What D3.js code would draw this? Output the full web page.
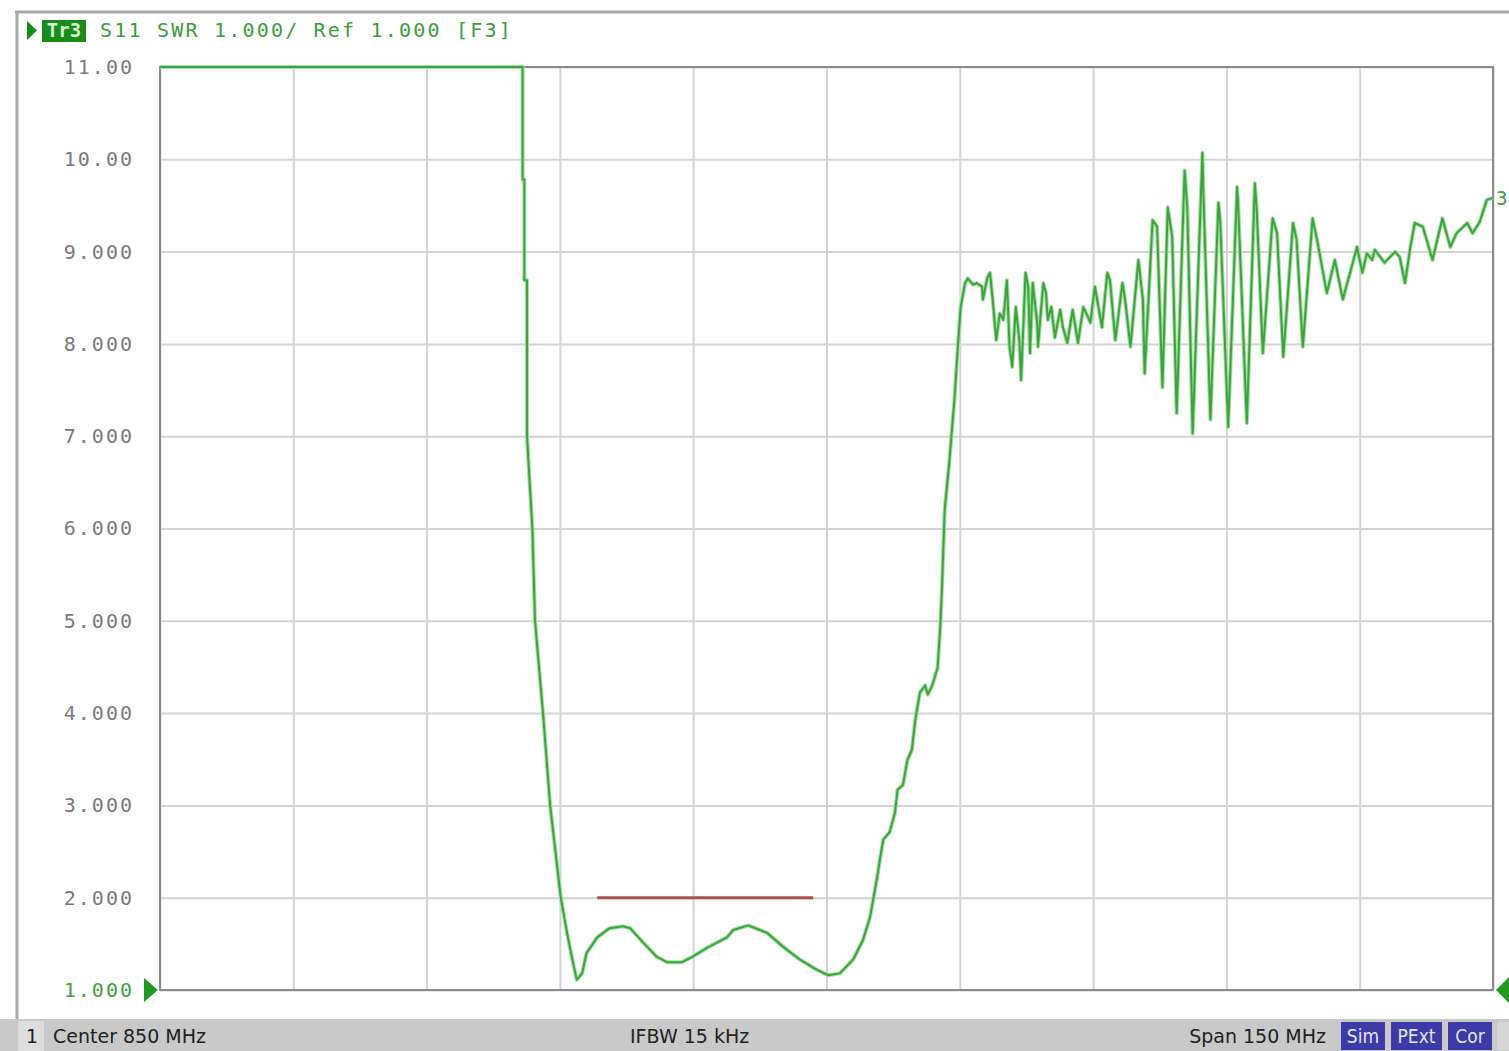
<!DOCTYPE html>
<html>
<head>
<meta charset="utf-8">
<script src="https://cdn.jsdelivr.net/npm/d3@7"></script>
<style>
  html, body { margin: 0; padding: 0; background: #fff; overflow: hidden; }
  svg { display: block; }
</style>
</head>
<body>
<div id="chart"></div>
<script>
// S11 SWR trace, 775..925 MHz
const freqMHz = [
  775.0, 815.8, 815.8, 816.0, 816.0, 816.3, 816.3, 816.9, 817.2, 818.1, 818.9, 820.1,
  820.8, 821.4, 821.9, 822.5, 823.0, 824.2, 825.6, 827.1, 827.9, 829.4, 830.9, 832.1,
  833.7, 834.9, 836.6, 838.8, 839.5, 841.2, 841.7, 843.3, 845.1, 847.0, 848.9, 850.2,
  851.5, 853.0, 854.1, 854.9, 855.7, 856.0, 856.4, 857.1, 857.7, 858.0, 858.6, 859.1,
  859.6, 860.0, 860.5, 861.1, 861.4, 861.9, 862.5, 862.8, 863.0, 863.1, 863.3, 863.8,
  864.4, 864.8, 865.1, 865.6,
  865.9, 866.5, 866.9, 867.5, 867.6, 868.1, 868.4, 868.7, 869.1, 869.5, 869.9, 870.3,
  870.6, 870.9, 871.3, 871.7, 871.9, 872.4, 872.7, 872.9, 873.2, 873.7, 873.8, 874.4,
  874.7, 874.9, 875.3, 875.7, 876.3, 876.6, 877.1, 877.7, 878.2, 878.3, 878.9, 879.7,
  880.2, 880.6, 881.0, 881.6, 881.9, 882.5, 883.3, 883.6, 884.2, 885.1, 885.6, 885.8,
  886.7, 887.2, 887.8, 888.4, 888.9, 889.4, 890.3, 890.6, 891.2, 892.3, 892.4, 893.2,
  894.1, 894.3, 895.2, 896.2, 896.3, 897.3, 898.2, 898.4, 899.1, 900.2, 900.7, 901.4,
  902.5, 902.9, 903.6, 904.7, 905.2, 906.3, 907.2, 908.1, 909.7, 910.3, 910.8, 911.4,
  911.7, 912.8, 914.0, 914.5, 915.1, 915.7, 916.2, 917.1, 918.2, 919.3, 920.2, 920.9,
  922.1, 922.7, 923.5, 924.3, 925.0
];
const swr = [
  11.00, 11.00, 9.78, 9.78, 8.69, 8.69, 7.00, 6.00, 5.00, 4.00, 3.00, 2.00,
  1.62, 1.33, 1.11, 1.18, 1.40, 1.57, 1.67, 1.69, 1.67, 1.51, 1.36, 1.30,
  1.30, 1.36, 1.46, 1.57, 1.65, 1.70, 1.68, 1.62, 1.47, 1.33, 1.22, 1.16,
  1.18, 1.33, 1.54, 1.79, 2.22, 2.41, 2.63, 2.71, 2.92, 3.17, 3.22, 3.49,
  3.60, 3.93, 4.22, 4.30, 4.20, 4.30, 4.49, 4.93, 5.37, 5.66, 6.20, 6.70,
  7.40, 8.00, 8.40, 8.66,
  8.71, 8.64, 8.66, 8.62, 8.48, 8.72, 8.77, 8.48, 8.04, 8.33, 8.26, 8.69,
  7.97, 7.75, 8.40, 8.04, 7.61, 8.77, 8.62, 7.90, 8.66, 8.23, 7.97, 8.66,
  8.55, 8.26, 8.40, 8.07, 8.37, 8.18, 8.01, 8.37, 8.07, 8.01, 8.40, 8.23,
  8.62, 8.40, 8.18, 8.77, 8.69, 8.04, 8.66, 8.48, 7.97, 8.91, 8.48, 7.68,
  9.34, 9.27, 7.53, 9.48, 9.16, 7.25, 9.88, 9.48, 7.03, 10.07, 9.67, 7.18,
  9.53, 9.34, 7.10, 9.70, 9.56, 7.14, 9.74, 9.48, 7.90, 9.36, 9.20, 7.86,
  9.31, 9.13, 7.97, 9.36, 9.13, 8.55, 8.91, 8.48, 9.05, 8.77, 8.98, 8.91,
  9.02, 8.88, 9.00, 8.94, 8.66, 9.05, 9.31, 9.27, 8.91, 9.36, 9.05, 9.20,
  9.31, 9.20, 9.32, 9.56, 9.58
];
const limitFreq = [824.2, 848.5];
const limitSwr = [2.0, 2.0];

const freqTicks = [775, 790, 805, 820, 835, 850, 865, 880, 895, 910, 925];
const swrTicks = [11, 10, 9, 8, 7, 6, 5, 4, 3, 2, 1];
const swrTickLabels = ['11.00', '10.00', '9.000', '8.000', '7.000', '6.000',
  '5.000', '4.000', '3.000', '2.000', '1.000'];

const headerText = 'S11 SWR 1.000/ Ref 1.000 [F3]';
const statusLeft = 'Center 850 MHz';
const statusMid = 'IFBW 15 kHz';
const statusRight = 'Span 150 MHz';
const statusFlags = ['Sim', 'PExt', 'Cor'];

const width = 1509, height = 1051;
const plot = {left: 160, right: 1493, top: 67, bottom: 990};
const traceColor = '#3aa53a';
const mono = '"DejaVu Sans Mono", monospace';

const svg = d3.select('#chart').append('svg')
  .attr('width', width)
  .attr('height', height);

let x = d3.scaleLinear().domain([775, 925]).range([plot.left, plot.right]);
let y = d3.scaleLinear().domain([1, 11]).range([plot.bottom, plot.top]);

// outer frame
svg.append('line').attr('x1', 15).attr('x2', width).attr('y1', 12).attr('y2', 12)
  .attr('stroke', '#a9a9a9').attr('stroke-width', 3);
svg.append('line').attr('x1', 17).attr('x2', 17).attr('y1', 12).attr('y2', 1020)
  .attr('stroke', '#a9a9a9').attr('stroke-width', 3);

// grid
let xGrid = d3.axisBottom(x).tickValues(freqTicks).tickSize(-(plot.bottom - plot.top)).tickFormat('');
svg.append('g')
  .attr('transform', 'translate(0,' + plot.bottom + ')')
  .call(xGrid)
  .call(g => g.select('.domain').remove())
  .call(g => g.selectAll('line').attr('stroke', '#d3d3d3').attr('stroke-width', 2));

let yGrid = d3.axisLeft(y).tickValues(swrTicks).tickSize(-(plot.right - plot.left)).tickFormat('');
svg.append('g')
  .attr('transform', 'translate(' + plot.left + ',0)')
  .call(yGrid)
  .call(g => g.select('.domain').remove())
  .call(g => g.selectAll('line').attr('stroke', '#d3d3d3').attr('stroke-width', 2));

// plot border
svg.append('rect')
  .attr('x', plot.left).attr('y', plot.top)
  .attr('width', plot.right - plot.left).attr('height', plot.bottom - plot.top)
  .attr('fill', 'none').attr('stroke', '#8a8a8a').attr('stroke-width', 2);

// y labels
let yLabels = d3.axisLeft(y).tickValues(swrTicks).tickSize(0).tickPadding(0)
  .tickFormat((d, i) => swrTickLabels[i]);
svg.append('g')
  .attr('transform', 'translate(134,0)')
  .call(yLabels)
  .call(g => g.select('.domain').remove())
  .call(g => g.selectAll('text')
    .attr('font-family', mono).attr('font-size', 20).attr('letter-spacing', 2)
    .attr('fill', d => d === 1 ? '#3fa03f' : '#7a7a7a'));

// limit line
svg.append('line')
  .attr('x1', x(limitFreq[0])).attr('x2', x(limitFreq[1]))
  .attr('y1', y(limitSwr[0])).attr('y2', y(limitSwr[1]))
  .attr('stroke', '#a8504c').attr('stroke-width', 3);

// trace
let line = d3.line().x((d, i) => x(freqMHz[i])).y(d => y(Math.min(11, d)));
svg.append('path').datum(swr)
  .attr('d', line)
  .attr('fill', 'none')
  .attr('stroke', '#a6dca6').attr('stroke-width', 4).attr('stroke-linejoin', 'round');
svg.append('path').datum(swr)
  .attr('d', line)
  .attr('fill', 'none')
  .attr('stroke', traceColor).attr('stroke-width', 2).attr('stroke-linejoin', 'round');

// reference markers
svg.append('path')
  .attr('d', d3.line()([[144, y(1) - 12], [158, y(1)], [144, y(1) + 12]]))
  .attr('fill', '#1f9a1f');
svg.append('path')
  .attr('d', d3.line()([[1509, y(1) - 13], [1496, y(1)], [1509, y(1) + 13]]))
  .attr('fill', '#1f9a1f');
svg.append('text')
  .attr('x', 1496).attr('y', y(swr[swr.length - 1]) + 7)
  .attr('font-family', mono).attr('font-size', 19)
  .attr('fill', '#3fa03f').text('3');

// header
svg.append('path')
  .attr('d', d3.line()([[27, 21], [37, 30.5], [27, 40]]))
  .attr('fill', '#1a8a1a');
svg.append('rect').attr('x', 42).attr('y', 20).attr('width', 44).attr('height', 22)
  .attr('fill', '#1a8c1a');
svg.append('text').attr('x', 64).attr('y', 37).attr('text-anchor', 'middle')
  .attr('font-family', mono).attr('font-size', 19).attr('font-weight', 'bold')
  .attr('fill', '#d8f0d8').text('Tr3');
svg.append('text').attr('x', 100).attr('y', 37)
  .attr('font-family', mono).attr('font-size', 20).attr('letter-spacing', 2.2)
  .attr('fill', '#3c9c3c').text(headerText);

// status bar
let bar = svg.append('g').attr('transform', 'translate(0,1019)');
bar.append('rect').attr('x', 0).attr('y', 0).attr('width', width).attr('height', 32)
  .attr('fill', '#c9c9c9');
bar.append('rect').attr('x', 18).attr('y', 2).attr('width', 26).attr('height', 30)
  .attr('fill', '#dedede');
const statusFont = '"DejaVu Sans", sans-serif';
bar.append('text').attr('x', 26).attr('y', 24)
  .attr('font-family', statusFont).attr('font-size', 19).attr('fill', '#222').text('1');
bar.append('text').attr('x', 53).attr('y', 24)
  .attr('font-family', statusFont).attr('font-size', 19).attr('fill', '#222').text(statusLeft);
bar.append('text').attr('x', 630).attr('y', 24)
  .attr('font-family', statusFont).attr('font-size', 19).attr('fill', '#222').text(statusMid);
bar.append('text').attr('x', 1326).attr('y', 24).attr('text-anchor', 'end')
  .attr('font-family', statusFont).attr('font-size', 19).attr('fill', '#222').text(statusRight);

const flagX = [1341, 1391, 1448];
const flagW = [44, 51, 44];
statusFlags.forEach((f, i) => {
  bar.append('rect').attr('x', flagX[i]).attr('y', 3).attr('width', flagW[i]).attr('height', 28)
    .attr('fill', '#3b3aa6');
  bar.append('text').attr('x', flagX[i] + flagW[i] / 2).attr('y', 24).attr('text-anchor', 'middle')
    .attr('font-family', '"DejaVu Sans Condensed", sans-serif').attr('font-size', 19)
    .attr('fill', '#e4e4f4').text(f);
});
bar.append('rect').attr('x', 1497).attr('y', 3).attr('width', 12).attr('height', 28)
  .attr('fill', '#d6d6d6');
</script>
</body>
</html>
